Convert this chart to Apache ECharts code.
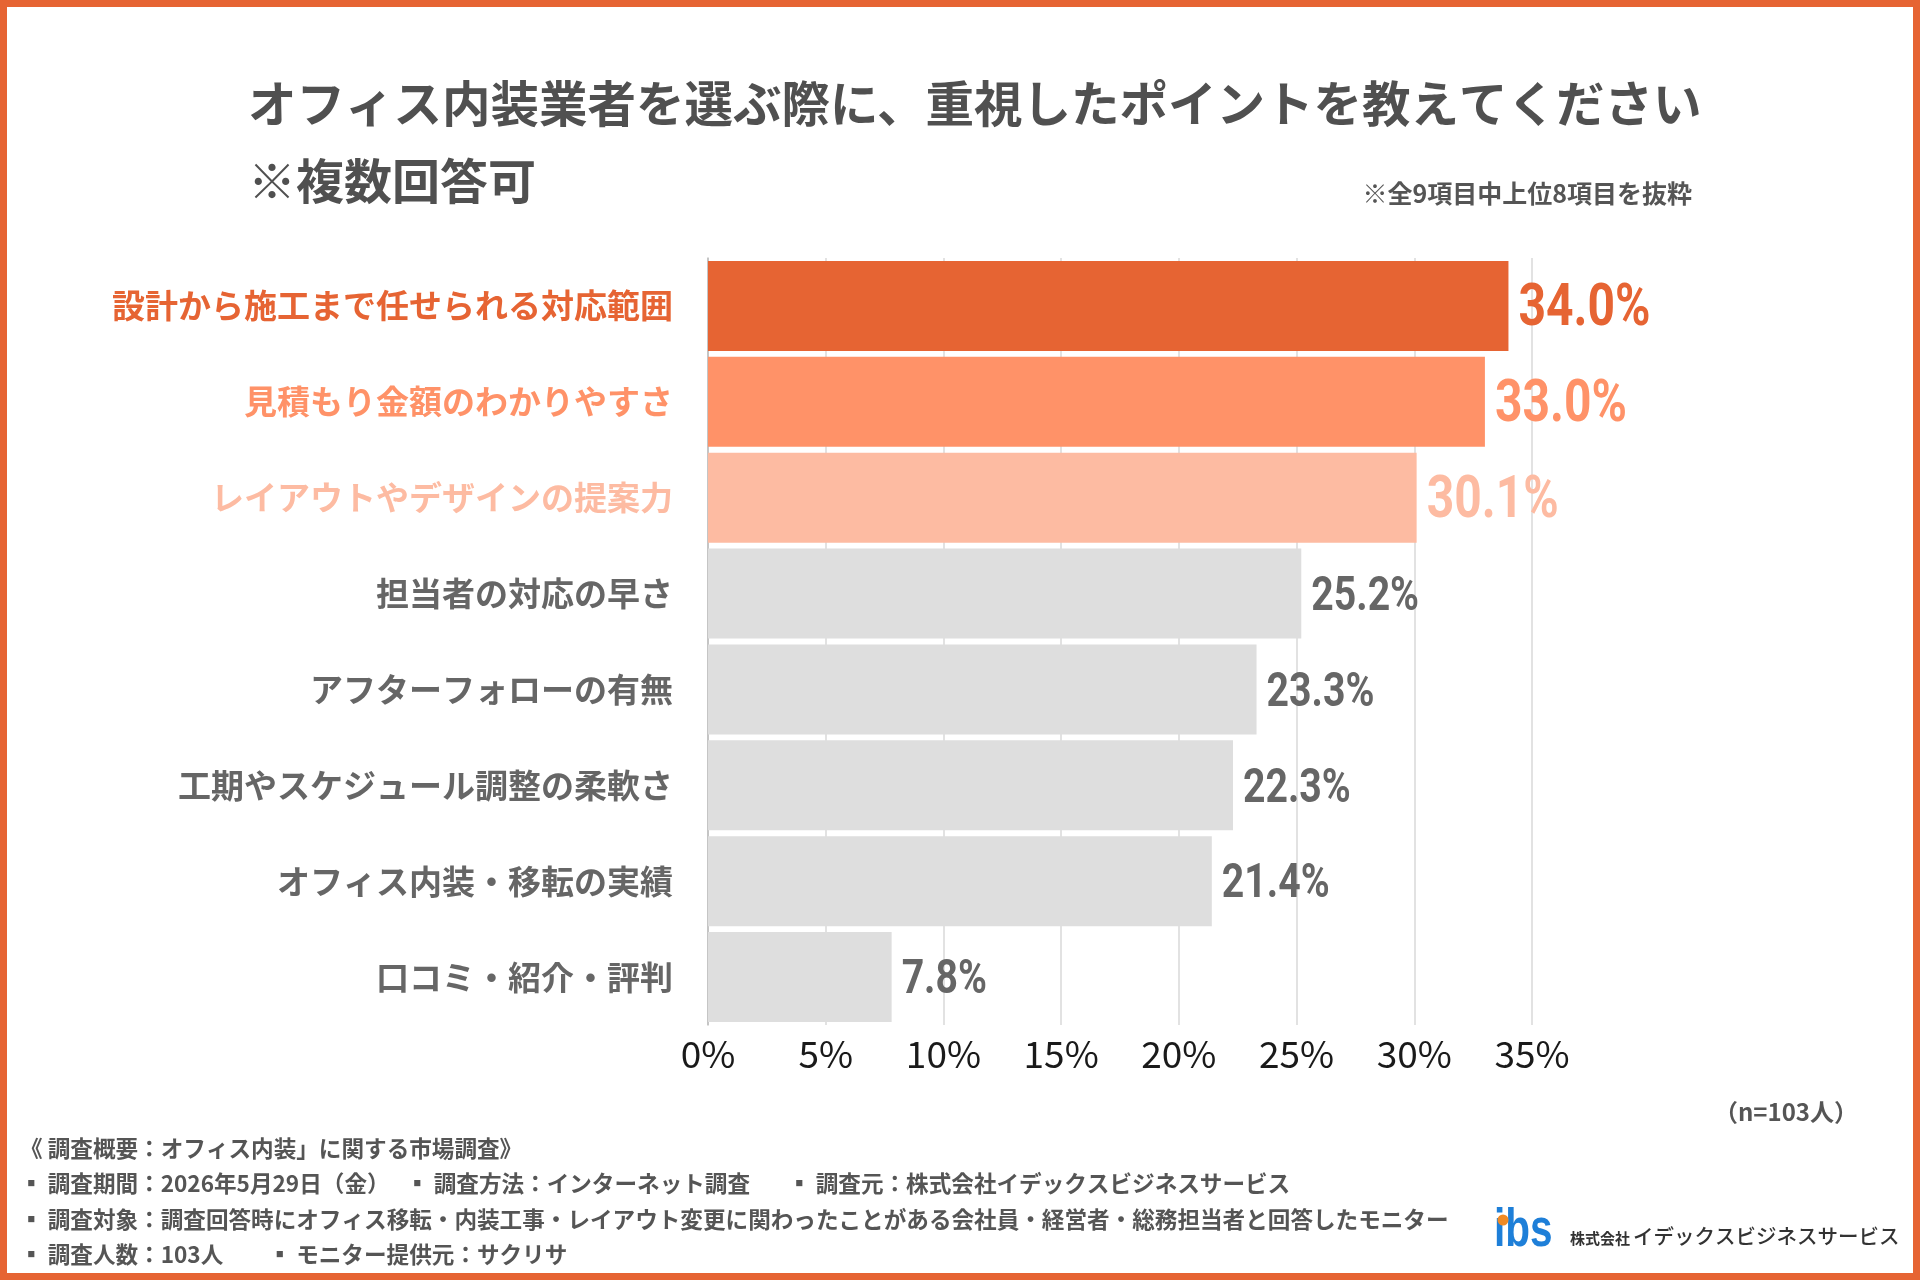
<!DOCTYPE html>
<html>
<head>
<meta charset="utf-8">
<script src="https://cdn.jsdelivr.net/npm/echarts@6/dist/echarts.min.js"></script>
<style>
  html, body { margin: 0; padding: 0; background: #fff; }
  #chart { width: 1920px; height: 1280px; }
</style>
</head>
<body>
<div id="chart"></div>
<script>
const CATEGORIES = [
  "設計から施工まで任せられる対応範囲",
  "見積もり金額のわかりやすさ",
  "レイアウトやデザインの提案力",
  "担当者の対応の早さ",
  "アフターフォローの有無",
  "工期やスケジュール調整の柔軟さ",
  "オフィス内装・移転の実績",
  "口コミ・紹介・評判"
];
const VALUES = [34.0, 33.0, 30.1, 25.2, 23.3, 22.3, 21.4, 7.8];
const X_TICKS = [0, 5, 10, 15, 20, 25, 30, 35];

const FOOTER_LINES = [
  "《 調査概要：オフィス内装」に関する市場調査》",
  "▪ 調査期間：2026年5月29日（金）　 ▪ 調査方法：インターネット調査　   ▪ 調査元：株式会社イデックスビジネスサービス",
  "▪ 調査対象：調査回答時にオフィス移転・内装工事・レイアウト変更に関わったことがある会社員・経営者・総務担当者と回答したモニター",
  "▪ 調査人数：103人　　▪ モニター提供元：サクリサ"
];

const BAR_COLORS = ["#e66433", "#ff9268", "#fdbba2"];
const GREY_BAR = "#dedede";
const GREY_TEXT = "#666666";
const ORANGE = "#e66433";
const JP = "'Noto Sans CJK JP', 'Noto Sans', sans-serif";

function isHighlight(i) {
  return i < BAR_COLORS.length;
}
function barColor(i) {
  return isHighlight(i) ? BAR_COLORS[i] : GREY_BAR;
}
function textColor(i) {
  return isHighlight(i) ? BAR_COLORS[i] : GREY_TEXT;
}

const chart = echarts.init(document.getElementById("chart"));

const footerGraphics = FOOTER_LINES.map((line, i) => ({
  type: "text",
  left: 20,
  top: 1137 + i * 35.5,
  style: {
    text: line,
    font: "bold 22.6px " + JP,
    fill: "#555555"
  }
}));

// value labels: condensed look, placed at the bar end via the axes
function renderValueLabel(params, api) {
  const v = api.value(0);
  const i = api.value(1);
  const pt = api.coord([v, i]);
  const size = isHighlight(i) ? 60 : 49;
  return {
    type: "text",
    x: pt[0] + 10,
    y: pt[1] + 4,
    scaleX: 0.8,
    silent: true,
    style: {
      text: v.toFixed(1) + "%",
      x: 0,
      y: 0,
      fill: textColor(i),
      font: "bold " + size + "px Roboto, sans-serif",
      align: "left",
      verticalAlign: "middle"
    }
  };
}

const option = {
  animation: false,
  backgroundColor: "#ffffff",
  grid: { left: 708, right: 388, top: 258, bottom: 255, containLabel: false },
  xAxis: {
    type: "value",
    min: X_TICKS[0],
    max: X_TICKS[X_TICKS.length - 1],
    interval: 5,
    axisLine: { show: false },
    axisTick: { show: false },
    splitLine: { lineStyle: { color: "#d9d9d9", width: 1.5 } },
    axisLabel: {
      formatter: "{value}%",
      fontFamily: JP,
      fontSize: 37,
      color: "#1a1a1a",
      margin: 10
    }
  },
  yAxis: {
    type: "category",
    inverse: true,
    data: CATEGORIES,
    axisLine: { show: true, lineStyle: { color: "#bbbbbb", width: 1.5 } },
    axisTick: { show: false },
    axisLabel: {
      fontFamily: JP,
      fontWeight: "bold",
      fontSize: 33,
      margin: 35,
      color: (value, index) => textColor(index)
    }
  },
  series: [
    {
      type: "bar",
      barCategoryGap: "6%",
      data: VALUES.map((v, i) => ({
        value: v,
        itemStyle: { color: barColor(i) }
      }))
    },
    {
      type: "custom",
      silent: true,
      encode: { x: 0, y: 1 },
      data: VALUES.map((v, i) => [v, i]),
      renderItem: renderValueLabel,
      z: 5
    }
  ],
  graphic: [
    {
      type: "rect",
      silent: true,
      shape: { x: 3.5, y: 3.5, width: 1913, height: 1273 },
      style: { fill: "none", stroke: ORANGE, lineWidth: 7 }
    },
    {
      type: "text",
      left: 248,
      top: 79,
      style: {
        text: "オフィス内装業者を選ぶ際に、重視したポイントを教えてください",
        font: "bold 48.5px " + JP,
        fill: "#505050"
      }
    },
    {
      type: "text",
      left: 248,
      top: 157,
      style: {
        text: "※複数回答可",
        font: "bold 48px " + JP,
        fill: "#505050"
      }
    },
    {
      type: "text",
      right: 228,
      top: 181,
      style: {
        text: "※全9項目中上位8項目を抜粋",
        font: "bold 25px " + JP,
        fill: "#555555"
      }
    },
    {
      type: "text",
      right: 62,
      top: 1100,
      style: {
        text: "（n=103人）",
        font: "bold 24px " + JP,
        fill: "#555555"
      }
    },
    ...footerGraphics,
    // company logo mark
    {
      type: "text",
      x: 1494,
      y: 1258,
      scaleX: 0.75,
      style: {
        text: "ibs",
        x: 0,
        y: 0,
        verticalAlign: "bottom",
        font: "bold 54px 'Liberation Sans', sans-serif",
        fill: "#1e7fd8"
      }
    },
    {
      type: "circle",
      shape: { cx: 1503, cy: 1220, r: 5.5 },
      style: { fill: "#f08a24" },
      z: 10
    },
    {
      type: "text",
      left: 1570,
      top: 1231,
      style: {
        text: "株式会社",
        font: "bold 15px " + JP,
        fill: "#333333"
      }
    },
    {
      type: "text",
      left: 1633,
      top: 1226,
      style: {
        text: "イデックスビジネスサービス",
        font: "500 20.5px " + JP,
        fill: "#333333"
      }
    }
  ]
};

chart.setOption(option);
window.addEventListener("resize", () => chart.resize());
</script>
</body>
</html>
